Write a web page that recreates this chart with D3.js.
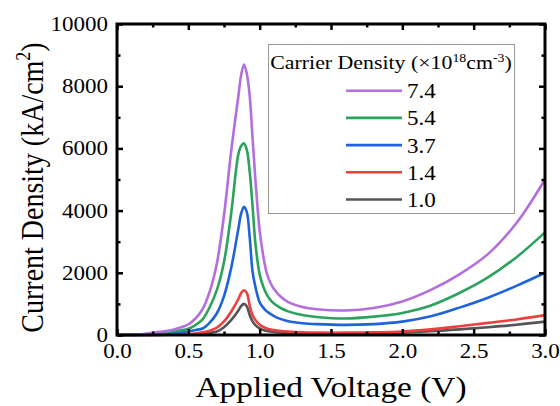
<!DOCTYPE html>
<html>
<head>
<meta charset="utf-8">
<script src="https://cdn.jsdelivr.net/npm/d3@7"></script>
<style>
    body { margin: 0; background: #fff; }
    svg text { font-family: "Liberation Serif", "Times New Roman", serif; fill: #000; }
    /* the reference is a bit wider than tall, so the glyphs get stretched */
    .sx-c { transform-box: fill-box; transform-origin: center; transform: scaleX(1.15); }
    .sx-r { transform-box: fill-box; transform-origin: right center; transform: scaleX(1.15); }
    .sx-l { transform-box: fill-box; transform-origin: left center; transform: scaleX(1.15); }
</style>
</head>
<body>
<div id="chart"></div>
<script>
// voltage samples (V)
const voltage = [0, 0.1, 0.2, 0.3, 0.4, 0.5, 0.55, 0.6, 0.65, 0.7, 0.75, 0.8, 0.85, 0.87, 0.89, 0.91,
    0.93, 0.95, 0.97, 1.0, 1.025, 1.05, 1.075, 1.1, 1.15, 1.2, 1.3, 1.4, 1.6, 1.8, 2.0, 2.2, 2.4,
    2.6, 2.8, 3.0];

// current density (kA/cm2), one list per carrier density
const density74 = [0, 5, 40, 100, 180, 340, 530, 830, 1400, 2300, 3850, 5900, 7660, 8350, 8700, 8400,
    7700, 6350, 5000, 3350, 2550, 1980, 1680, 1480, 1220, 1060, 900, 830, 790, 870, 1080, 1450, 1950,
    2600, 3600, 5000];
const density54 = [0, 3, 20, 60, 120, 200, 320, 500, 900, 1450, 2350, 3900, 5800, 6080, 6160, 5950,
    5250, 4150, 2950, 1950, 1560, 1300, 1130, 1010, 860, 760, 640, 580, 530, 590, 710, 950, 1350,
    1850, 2500, 3300];
const density37 = [0, 2, 10, 30, 60, 110, 160, 210, 400, 700, 1250, 2150, 3400, 3900, 4120, 3950,
    3150, 2050, 1550, 1050, 880, 760, 680, 610, 510, 445, 380, 350, 325, 350, 430, 600, 880,
    1200, 1580, 2000];
const density14 = [0, 1, 3, 8, 15, 30, 45, 85, 140, 240, 440, 750, 1150, 1350, 1440, 1350,
    950, 640, 480, 330, 260, 210, 180, 160, 130, 110, 85, 75, 75, 85, 110, 180, 280,
    390, 500, 640];
const density10 = [0, 1, 2, 5, 10, 20, 30, 45, 70, 110, 250, 480, 780, 930, 1000, 920,
    640, 440, 320, 210, 160, 130, 110, 95, 78, 66, 55, 50, 50, 60, 80, 120, 180,
    250, 330, 430];

const seriesNames = ["7.4", "5.4", "3.7", "1.4", "1.0"];
const seriesValues = [density74, density54, density37, density14, density10];
const seriesColors = ["#b36ee0", "#2ba35c", "#1f63dc", "#f03e3e", "#555555"];

const xTicks = [0, 0.5, 1.0, 1.5, 2.0, 2.5, 3.0];
const xMinor = [0.25, 0.75, 1.25, 1.75, 2.25, 2.75];
const yTicks = [0, 2000, 4000, 6000, 8000, 10000];
const yMinor = [1000, 3000, 5000, 7000, 9000];

const width = 560, height = 406;
const margin = { top: 24, right: 15, bottom: 71, left: 117 };
const w = width - margin.left - margin.right;
const h = height - margin.top - margin.bottom;

const svg = d3.select("#chart").append("svg")
    .attr("width", width)
    .attr("height", height);

const g = svg.append("g")
    .attr("transform", `translate(${margin.left},${margin.top})`);

const x = d3.scaleLinear().domain([0, 3]).range([0, w]);
const y = d3.scaleLinear().domain([0, 10000]).range([h, 0]);

// curves
const line = d3.line()
    .x((d, i) => x(voltage[i]))
    .y(d => y(d))
    .curve(d3.curveCatmullRom.alpha(0.5));

// draw lowest first so the big ones sit on top like the original
seriesValues.slice().reverse().forEach((vals, j) => {
    const k = seriesValues.length - 1 - j;
    g.append("path")
        .datum(vals)
        .attr("fill", "none")
        .attr("stroke", seriesColors[k])
        .attr("stroke-width", 2.6)
        .attr("stroke-linejoin", "round")
        .attr("d", line);
});

// axes: ticks point inward on every side
const styleTicks = (sel) => {
    sel.select(".domain").remove();
    sel.selectAll(".tick line").attr("stroke", "#000").attr("stroke-width", 2.5);
};

g.append("g")
    .attr("transform", `translate(0,${h})`)
    .call(d3.axisBottom(x).tickValues(xTicks).tickSize(-6).tickPadding(9).tickFormat(d3.format(".1f")))
    .call(styleTicks)
    .call(a => a.selectAll("text").attr("font-size", 20).attr("class", "sx-c")
        .style("font-family", "'Liberation Serif', serif"));

g.append("g")
    .attr("transform", `translate(0,${h})`)
    .call(d3.axisBottom(x).tickValues(xMinor).tickSize(-3.5).tickFormat(""))
    .call(styleTicks);

g.append("g")
    .call(d3.axisLeft(y).tickValues(yTicks).tickSize(-6).tickPadding(9).tickFormat(d3.format("d")))
    .call(styleTicks)
    .call(a => a.selectAll("text").attr("font-size", 20).attr("class", "sx-r")
        .style("font-family", "'Liberation Serif', serif"));

g.append("g")
    .call(d3.axisLeft(y).tickValues(yMinor).tickSize(-3.5).tickFormat(""))
    .call(styleTicks);

// mirrored ticks, top and right
g.append("g")
    .call(d3.axisTop(x).tickValues(xTicks).tickSize(-6).tickFormat(""))
    .call(styleTicks);
g.append("g")
    .call(d3.axisTop(x).tickValues(xMinor).tickSize(-3.5).tickFormat(""))
    .call(styleTicks);
g.append("g")
    .attr("transform", `translate(${w},0)`)
    .call(d3.axisRight(y).tickValues(yTicks).tickSize(-6).tickFormat(""))
    .call(styleTicks);
g.append("g")
    .attr("transform", `translate(${w},0)`)
    .call(d3.axisRight(y).tickValues(yMinor).tickSize(-3.5).tickFormat(""))
    .call(styleTicks);

// frame
g.append("rect")
    .attr("width", w)
    .attr("height", h)
    .attr("fill", "none")
    .attr("stroke", "#000")
    .attr("stroke-width", 3);

// axis titles
svg.append("text")
    .attr("x", margin.left + w / 2)
    .attr("y", 397)
    .attr("text-anchor", "middle")
    .attr("font-size", 29)
    .attr("class", "sx-c")
    .text("Applied Voltage (V)");

const yTitle = svg.append("text")
    .attr("transform", `translate(43,${margin.top + h / 2 + 8}) rotate(-90) scale(1,1.15)`)
    .attr("text-anchor", "middle")
    .attr("font-size", 28);
yTitle.append("tspan").text("Current Density (kA/cm");
yTitle.append("tspan").attr("font-size", 18).attr("dy", -11).text("2");
yTitle.append("tspan").attr("dy", 11).text(")");

// legend
const legend = svg.append("g");
legend.append("rect")
    .attr("x", 268.5)
    .attr("y", 44.5)
    .attr("width", 246)
    .attr("height", 169)
    .attr("fill", "#fff")
    .attr("stroke", "#999")
    .attr("stroke-width", 1);

const lt = legend.append("text")
    .attr("x", 391)
    .attr("y", 69)
    .attr("text-anchor", "middle")
    .attr("font-size", 19)
    .attr("class", "sx-c");
lt.append("tspan").text("Carrier Density (\u00d710");
lt.append("tspan").attr("font-size", 12).attr("dy", -7).text("18");
lt.append("tspan").attr("dy", 7).text("cm");
lt.append("tspan").attr("font-size", 12).attr("dy", -7).text("-3");
lt.append("tspan").attr("dy", 7).text(")");

seriesNames.forEach((name, i) => {
    const yy = 90.7 + i * 27.2;
    legend.append("line")
        .attr("x1", 346).attr("x2", 402)
        .attr("y1", yy).attr("y2", yy)
        .attr("stroke", seriesColors[i])
        .attr("stroke-width", 2.6);
    legend.append("text")
        .attr("x", 407)
        .attr("y", yy + 7.5)
        .attr("font-size", 20)
        .attr("class", "sx-l")
        .text(name);
});
</script>
</body>
</html>
